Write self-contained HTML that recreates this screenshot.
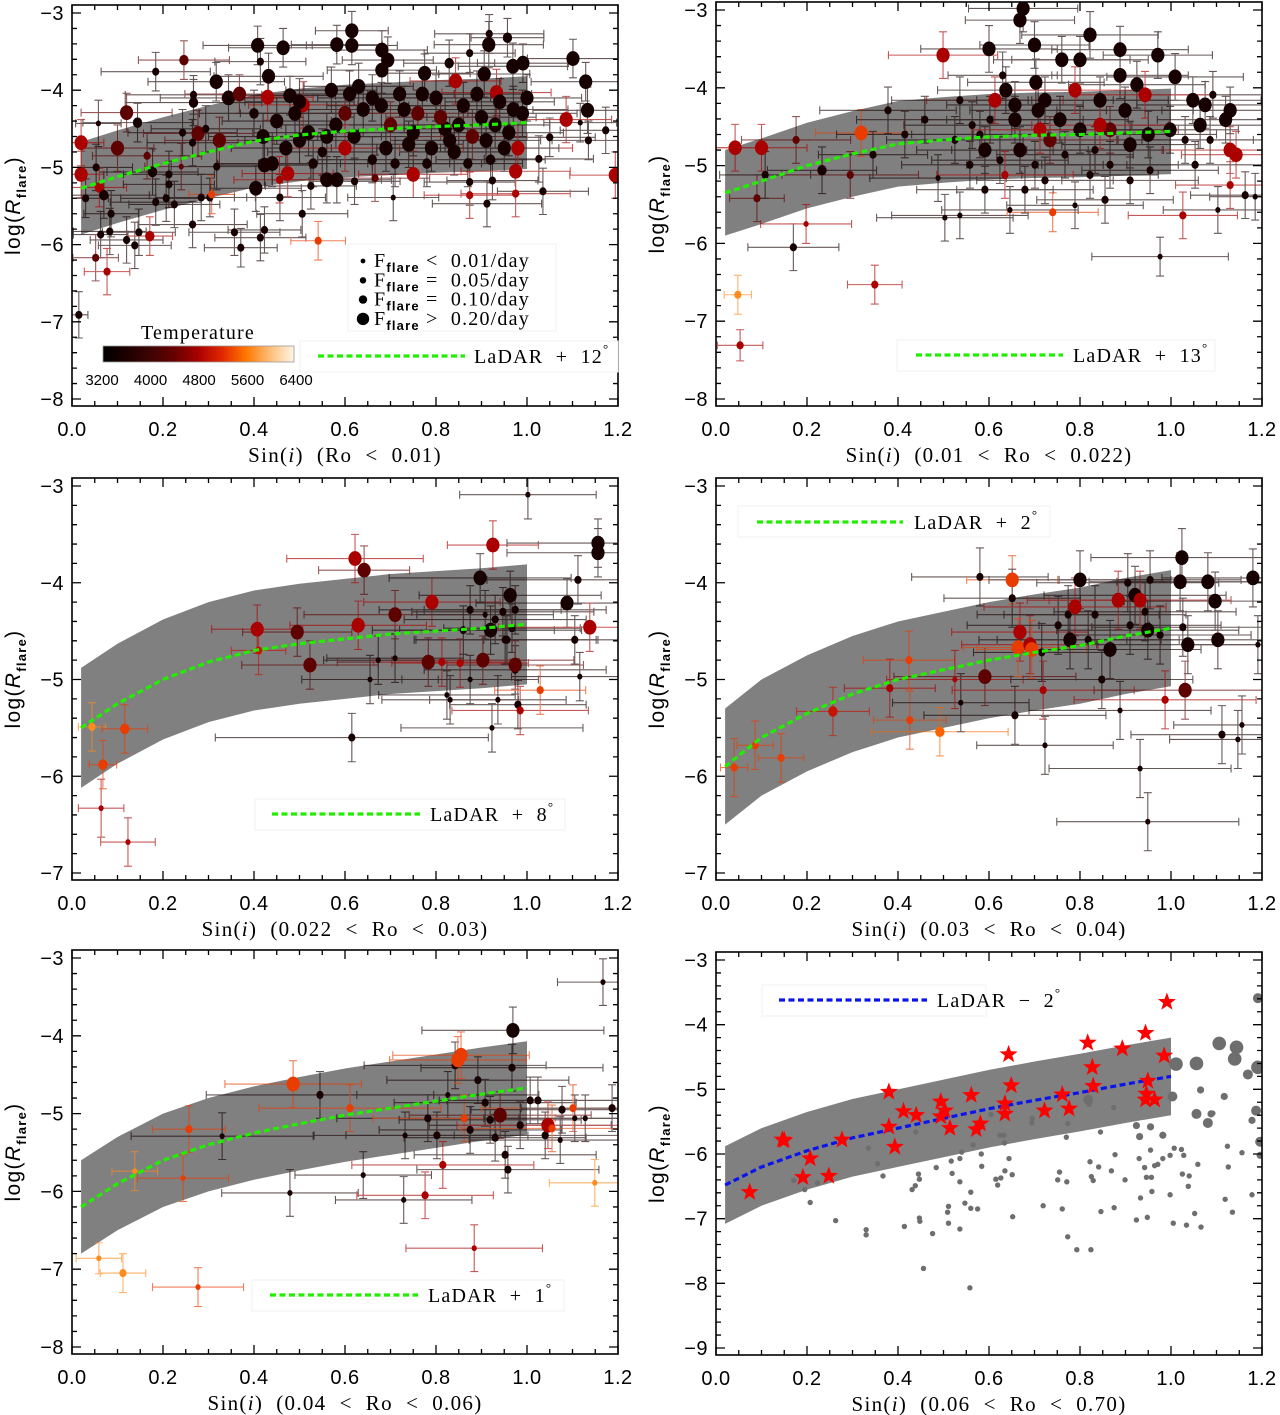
<!DOCTYPE html>
<html><head><meta charset="utf-8"><title>log R_flare vs sin i</title>
<style>
html,body{margin:0;padding:0;background:#fff;}
svg{display:block;font-family:"Liberation Sans",sans-serif;}
text{white-space:pre;}
.tick{font-size:20px;fill:#000;letter-spacing:0.5px;}
.lab{font-family:"Liberation Serif",serif;font-size:21px;fill:#000;letter-spacing:1.3px;}
.leg{font-family:"Liberation Serif",serif;font-size:20px;fill:#000;letter-spacing:1.2px;}
</style></head>
<body>
<svg id="chart" width="1280" height="1415" viewBox="0 0 1280 1415" xmlns="http://www.w3.org/2000/svg"></svg>
<script>
// ---------------- DATA ----------------
const xTicks = [0.0, 0.2, 0.4, 0.6, 0.8, 1.0, 1.2];
const xTickLabels = ["0.0", "0.2", "0.4", "0.6", "0.8", "1.0", "1.2"];
const modelX = [0.02, 0.1, 0.2, 0.3, 0.4, 0.5, 0.6, 0.7, 0.8, 0.9, 1.0];
const p1Model = [-5.27, -5.12, -4.95, -4.8, -4.66, -4.58, -4.53, -4.5, -4.47, -4.45, -4.42];
const p2Model = [-5.35, -5.2, -5.0, -4.85, -4.72, -4.67, -4.63, -4.61, -4.6, -4.58, -4.56];
const p3Model = [-5.5, -5.25, -5.0, -4.82, -4.7, -4.63, -4.58, -4.53, -4.5, -4.47, -4.43];
const p4Model = [-5.9, -5.6, -5.35, -5.15, -5.0, -4.9, -4.8, -4.72, -4.65, -4.55, -4.47];
const p5Model = [-6.2, -5.9, -5.6, -5.4, -5.25, -5.13, -5.02, -4.93, -4.84, -4.75, -4.67];
const p6Model = [-6.48, -6.2, -5.95, -5.75, -5.6, -5.45, -5.3, -5.17, -5.05, -4.92, -4.8];
const bandHalf = [0.6, 0.55, 0.62, 0.6, 0.6, 0.6];
const tempTicks = [3200, 4000, 4800, 5600, 6400];
const flareLegend = ["< 0.01/day", "= 0.05/day", "= 0.10/day", "> 0.20/day"];
// rows: [sin i, log R, x err, y err, size class, Teff]
const p1Points = [
[.02,-4.68,.05,.3,3,4800],[.02,-5.09,.05,.3,3,4800],[.053,-5.0,.08,.3,1,3500],[.03,-5.4,.05,.25,1,3500],[.06,-5.26,.06,.25,2,4800],
[.07,-5.36,.1,.3,2,3500],[.058,-4.43,.05,.3,0,3500],[.10,-4.75,.08,.3,3,4300],[.12,-4.29,.1,.25,3,4300],[.144,-4.42,.12,.25,2,3500],
[.165,-4.85,.12,.3,1,4300],[.177,-5.06,.1,.3,2,3500],[.184,-3.76,.12,.25,1,3500],[.246,-3.61,.1,.25,2,4300],[.267,-4.06,.15,.25,1,3500],
[.267,-4.16,.15,.3,2,3500],[.243,-4.55,.12,.3,1,3500],[.277,-4.56,.12,.3,3,4300],[.265,-4.68,.1,.3,1,3500],[.24,-4.99,.08,.3,0,4300],
[.294,-4.5,.12,.3,1,3500],[.317,-3.89,.15,.25,3,3500],[.344,-4.1,.15,.3,3,3500],[.368,-4.05,.12,.25,3,4300],[.318,-4.99,.1,.3,1,3500],
[.324,-4.65,.12,.3,3,4300],[.303,-5.39,.1,.25,1,3500],[.307,-5.35,.05,.25,1,5300],[.284,-5.39,.1,.3,1,3500],[.408,-3.42,.12,.25,3,3500],
[.414,-3.63,.1,.3,1,3500],[.432,-3.82,.12,.3,3,3500],[.43,-4.09,.1,.3,3,4800],[.464,-3.45,.12,.25,3,3500],[.479,-4.07,.1,.25,3,3500],
[.508,-4.19,.12,.3,3,4800],[.582,-3.41,.1,.25,3,3500],[.615,-3.23,.08,.25,3,3500],[.615,-3.42,.1,.25,3,3500],[.681,-3.48,.1,.25,3,3500],
[.694,-3.61,.1,.3,3,3500],[.681,-3.74,.12,.3,3,3500],[.775,-3.78,.1,.25,3,3500],[.829,-3.65,.1,.3,2,3500],[.874,-3.52,.1,.25,1,3500],
[.917,-3.27,.12,.25,1,3500],[.916,-3.41,.12,.3,3,3500],[.957,-3.32,.08,.25,2,3500],[.906,-3.79,.1,.3,3,3500],[.969,-3.69,.12,.3,3,3500],
[.991,-3.65,.1,.25,3,3500],[.933,-4.03,.12,.3,3,4800],[.843,-3.88,.1,.3,3,4800],[1.101,-3.59,.1,.25,3,3500],[1.129,-3.89,.12,.25,3,3500],
[1.133,-4.26,.12,.3,3,3500],[1.086,-4.38,.1,.3,3,4800],[1.117,-4.42,.08,.25,0,3500],[1.135,-4.65,.08,.25,1,3500],[1.173,-4.52,.1,.3,1,3500],
[1.05,-4.61,.1,.25,1,3500],[1.026,-4.89,.12,.3,1,3500],[1.035,-5.31,.1,.3,1,3500],[1.194,-5.1,.1,.3,3,4800],[.912,-5.47,.12,.3,1,3500],
[.924,-5.17,.1,.25,1,3500],[.874,-5.19,.1,.3,1,3500],[.874,-5.36,.1,.3,1,4800],[.975,-5.34,.12,.3,1,4800],[.975,-5.05,.12,.3,3,4800],
[.75,-5.09,.12,.3,3,4800],[.706,-5.39,.1,.3,0,3500],[.666,-5.14,.12,.3,1,4300],[.621,-5.18,.1,.3,1,3500],[.582,-5.16,.12,.3,3,3500],
[.56,-5.16,.12,.3,3,3500],[.525,-5.24,.1,.3,1,3500],[.506,-5.6,.1,.3,1,3500],[.457,-5.39,.1,.3,1,3500],[.456,-5.16,.1,.3,1,4800],
[.474,-5.08,.1,.3,3,4800],[.404,-5.27,.1,.3,3,3500],[.423,-4.97,.1,.3,3,3500],[.371,-6.04,.08,.25,1,3500],[.357,-5.84,.1,.3,1,3500],
[.414,-5.91,.1,.3,1,3500],[.423,-5.81,.08,.3,1,3500],[.541,-5.95,.06,.25,1,5300],[.265,-5.74,.12,.3,1,3500],[.225,-5.48,.1,.3,1,3500],
[.207,-5.4,.1,.3,1,3500],[.184,-5.45,.1,.3,1,3500],[.213,-5.09,.1,.3,1,3500],[.213,-5.22,.1,.3,1,3500],[.12,-5.94,.08,.3,1,3500],
[.138,-6.01,.08,.3,1,3500],[.147,-5.84,.08,.3,1,3500],[.171,-5.89,.05,.25,2,4800],[.083,-5.83,.08,.3,1,3500],[.063,-5.87,.06,.3,1,3500],
[.086,-5.6,.06,.3,1,3500],[.052,-6.17,.05,.3,1,4300],[.077,-6.35,.05,.3,1,4800],[.015,-6.91,.02,.3,1,3500],
[.45,-4.4,.12,.3,3,3500],[.5,-4.15,.12,.3,3,3500],[.52,-4.55,.12,.3,3,3500],[.55,-4.8,.12,.3,2,3500],[.57,-4.0,.1,.3,3,3500],
[.6,-4.3,.12,.3,3,4300],[.62,-4.6,.12,.3,3,3500],[.63,-3.95,.12,.3,3,3500],[.66,-4.9,.12,.3,2,3500],[.68,-4.2,.12,.3,3,3500],
[.7,-4.45,.12,.3,3,4300],[.72,-4.05,.12,.3,3,3500],[.74,-4.7,.12,.3,3,3500],[.76,-4.3,.12,.3,3,4300],[.78,-4.95,.12,.3,2,3500],
[.8,-4.1,.12,.3,3,3500],[.82,-4.5,.12,.3,3,3500],[.84,-4.8,.12,.3,3,3500],[.86,-4.2,.12,.3,3,3500],[.88,-4.6,.12,.3,3,4300],
[.9,-4.35,.12,.3,3,3500],[.92,-4.9,.12,.3,2,3500],[.94,-4.15,.12,.3,3,3500],[.96,-4.55,.12,.3,3,3500],[.98,-4.75,.12,.3,3,4800],
[1.0,-4.1,.12,.3,3,3500],[.47,-4.75,.12,.3,3,3500],[.53,-4.95,.12,.3,2,3500],[.58,-4.45,.12,.3,3,3500],[.64,-4.25,.12,.3,3,3500],
[.69,-4.75,.12,.3,3,3500],[.75,-4.55,.12,.3,3,3500],[.81,-4.35,.12,.3,3,4300],[.87,-4.95,.12,.3,2,3500],[.93,-4.45,.12,.3,3,3500],
[.99,-4.3,.12,.3,3,3500],[.42,-4.6,.12,.3,3,3500],[.44,-4.95,.12,.3,3,3500],[.49,-4.3,.12,.3,3,3500],[.6,-4.75,.12,.3,3,4800],
[.66,-4.1,.12,.3,3,3500],[.71,-4.95,.12,.3,2,3500],[.77,-4.05,.12,.3,3,3500],[.83,-4.65,.12,.3,3,3500],[.89,-4.05,.12,.3,3,3500],
[.95,-4.75,.12,.3,3,3500],[.97,-4.25,.12,.3,3,3500],[.4,-4.3,.12,.3,2,3500],[.56,-4.6,.12,.3,3,3500],[.73,-4.25,.12,.3,3,3500],
[.85,-4.45,.12,.3,3,3500],[.91,-4.65,.12,.3,3,3500],[.61,-4.05,.12,.3,3,3500],[.79,-4.75,.12,.3,3,3500],[.5,-4.65,.12,.3,3,3500]
];
const p2Points = [
[.048,-6.66,.03,.25,1,5700],[.053,-7.31,.05,.2,1,4800],[.09,-5.42,.06,.3,1,4300],[.042,-4.77,.05,.3,3,4800],[.10,-4.77,.1,.3,3,4800],
[.108,-5.12,.1,.3,1,3500],[.17,-6.05,.1,.3,1,3500],[.176,-4.67,.12,.3,1,4300],[.198,-5.75,.1,.25,0,4800],[.295,-5.12,.15,.3,1,4300],
[.233,-5.06,.12,.3,2,3500],[.319,-4.58,.1,.3,3,5300],[.349,-6.53,.06,.25,1,4800],[.345,-4.86,.12,.3,1,3500],[.378,-4.29,.15,.3,1,3500],
[.488,-5.16,.15,.3,0,3500],[.499,-3.58,.12,.3,3,4800],[.503,-5.67,.15,.3,0,3500],[.536,-5.64,.15,.3,0,3500],[.563,-4.48,.15,.3,1,3500],
[.58,-4.6,.15,.3,1,3500],[.6,-3.5,.15,.3,3,3500],[.613,-4.16,.15,.3,3,4800],[.63,-3.84,.12,.3,1,3500],[.668,-3.13,.12,.3,3,3500],
[.675,-2.98,.12,.3,3,3500],[.7,-3.45,.12,.3,3,3500],[.703,-3.93,.15,.3,3,3500],[.708,-4.29,.15,.3,3,3500],[.637,-4.03,.15,.3,3,3500],
[.657,-4.41,.15,.3,3,3500],[.723,-4.16,.15,.3,3,3500],[.74,-5.6,.1,.25,1,5300],[.76,-3.64,.15,.3,3,3500],[.8,-3.64,.15,.3,3,3500],
[.844,-4.16,.15,.3,3,3500],[.888,-3.84,.15,.3,3,3500],[.925,-3.96,.15,.3,3,3500],[.971,-3.58,.12,.3,3,3500],[1.009,-3.86,.15,.3,3,3500],
[1.048,-4.16,.15,.3,3,3500],[1.075,-4.22,.15,.3,3,3500],[1.092,-4.09,.15,.3,1,3500],[1.13,-4.8,.15,.3,3,4800],[1.143,-4.86,.12,.3,3,4800],
[1.13,-5.25,.12,.3,1,4800],[1.053,-4.99,.15,.3,1,3500],[1.086,-4.67,.15,.3,1,3500],[1.103,-5.57,.12,.3,0,3500],[1.163,-5.38,.12,.3,1,3500],
[1.185,-5.4,.1,.3,0,3500],[.976,-6.17,.15,.25,0,3500],[1.026,-5.64,.12,.3,1,4800],[1.13,-4.29,.15,.3,3,3500],[1.12,-4.41,.15,.3,3,3500],
[1.064,-4.48,.15,.3,3,3500],[1.031,-4.67,.15,.3,1,3500],[.998,-4.54,.15,.3,3,3500],[.95,-4.6,.15,.3,3,3500],[.91,-4.73,.15,.3,3,3500],
[.866,-4.54,.15,.3,3,4300],[.833,-4.8,.15,.3,1,3500],[.8,-4.54,.15,.3,3,3500],[.767,-4.86,.15,.3,1,3500],[.734,-4.67,.15,.3,3,4300],
[.701,-4.99,.15,.3,1,3500],[.668,-4.8,.15,.3,3,3500],[.624,-4.93,.15,.3,1,3500],[.591,-4.8,.15,.3,3,3500],[.558,-4.99,.15,.3,1,3500],
[.525,-4.67,.15,.3,1,3500],[.822,-5.12,.15,.3,1,3500],[.866,-4.99,.15,.3,1,3500],[.91,-5.19,.15,.3,1,3500],[.954,-5.06,.15,.3,1,3500],
[.723,-5.19,.15,.3,1,3500],[.679,-5.31,.15,.3,1,3500],[.635,-5.12,.15,.3,1,4800],[.591,-5.31,.15,.3,1,3500],[.855,-5.44,.15,.3,1,3500],
[.789,-5.51,.15,.3,0,3500],[.646,-5.57,.15,.3,0,3500],[.943,-4.09,.15,.3,3,4800],[.899,-4.29,.15,.3,3,3500],[.844,-4.48,.15,.3,3,4800],
[.756,-4.41,.15,.3,3,3500],[.712,-4.54,.15,.3,3,4800],[.657,-4.22,.15,.3,3,3500],[.602,-4.41,.15,.3,1,3500],[.536,-4.16,.15,.3,1,3500],
[.459,-4.41,.15,.3,1,3500],[.415,-4.6,.15,.3,1,3500],[.789,-4.03,.15,.3,3,4800],[.888,-3.51,.15,.3,3,3500],[.822,-3.32,.15,.3,3,3500]
];
const p3Points = [
[.044,-5.49,.03,.25,1,5700],[.068,-5.88,.03,.25,2,5300],[.064,-6.33,.05,.3,0,4800],[.123,-6.68,.06,.25,0,4800],[.116,-5.51,.05,.25,2,5300],
[.407,-4.48,.1,.25,3,4800],[.41,-4.7,.06,.25,1,5000],[.495,-4.51,.12,.25,3,4300],[.523,-4.85,.15,.25,3,4300],[.622,-3.75,.15,.25,3,4800],
[.642,-3.87,.1,.25,3,4300],[.629,-4.44,.15,.25,3,4800],[.615,-5.6,.3,.25,1,3500],[.655,-5.0,.15,.25,0,3500],[.673,-4.8,.12,.25,0,3500],
[.71,-4.33,.2,.25,3,4300],[.791,-4.2,.15,.25,3,4800],[.783,-4.82,.2,.25,3,4300],[.813,-4.82,.15,.25,1,4800],[.824,-5.16,.15,.25,0,3500],
[.853,-4.83,.15,.25,1,4800],[.86,-4.49,.2,.25,1,3500],[.875,-4.28,.2,.25,1,3500],[.897,-3.95,.2,.25,3,3500],[.908,-4.33,.15,.25,0,3500],
[.92,-4.49,.2,.25,3,3500],[.925,-3.61,.1,.25,3,4800],[.93,-4.38,.2,.25,1,3500],[.947,-4.3,.2,.25,1,3500],[.956,-4.59,.2,.25,1,3500],
[.963,-4.13,.2,.25,3,3500],[.967,-4.47,.15,.25,1,3500],[.974,-4.9,.2,.25,1,3500],[.974,-4.28,.2,.25,1,3500],[.98,-5.26,.15,.25,1,3500],
[.985,-5.32,.15,.25,1,4800],[1.002,-3.09,.15,.25,0,3500],[.974,-4.85,.15,.25,3,4300],[1.029,-5.11,.1,.25,1,5300],[1.088,-4.21,.2,.25,3,3500],
[1.112,-3.97,.2,.25,1,3500],[1.105,-4.59,.2,.25,1,3500],[1.116,-4.97,.15,.25,0,3500],[1.138,-4.46,.2,.25,3,4800],[1.156,-3.59,.2,.25,3,3500],
[1.156,-3.69,.2,.25,3,3500],[.952,-4.59,.2,.25,1,3500],[.903,-4.8,.2,.25,3,4300],[.936,-5.21,.15,.25,0,3500],[.923,-5.5,.2,.25,0,3500],
[.875,-5.0,.15,.25,0,3500],[.831,-5.21,.15,.25,0,3500],[.71,-4.78,.15,.25,0,3500]
];
const p4Points = [
[.04,-5.91,.03,.3,1,5300],[.086,-5.68,.04,.25,1,5300],[.143,-5.81,.05,.25,1,5300],[.257,-5.33,.08,.25,2,5000],[.382,-5.09,.1,.3,1,4800],
[.424,-4.8,.1,.3,1,5300],[.426,-5.42,.08,.3,1,5300],[.492,-5.54,.15,.25,2,5500],[.538,-5.24,.15,.3,0,3500],[.525,-5.0,.15,.3,0,4800],
[.58,-3.94,.15,.3,1,3500],[.591,-4.97,.2,.3,3,4300],[.651,-3.97,.1,.25,3,5300],[.651,-4.16,.15,.3,1,3500],[.657,-5.37,.2,.3,1,3500],
[.668,-4.51,.15,.3,3,4800],[.664,-4.67,.12,.3,3,5300],[.69,-4.64,.15,.3,3,4800],[.694,-4.69,.12,.3,3,5300],[.716,-4.72,.15,.3,1,3500],
[.719,-5.11,.2,.3,1,4800],[.723,-5.68,.15,.3,0,3500],[.752,-4.44,.2,.3,1,3500],[.774,-4.33,.2,.3,1,3500],[.778,-4.59,.2,.3,3,3500],
[.789,-4.25,.2,.3,3,4800],[.8,-3.97,.2,.3,3,3500],[.818,-4.59,.2,.3,1,3500],[.833,-4.33,.2,.3,1,3500],[.848,-5.0,.2,.3,1,3500],
[.866,-4.69,.2,.3,3,3500],[.884,-4.18,.2,.3,3,4800],[.905,-4.0,.2,.3,1,3500],[.91,-4.44,.2,.3,1,3500],[.921,-4.13,.2,.3,3,3500],
[.932,-4.18,.2,.3,3,4800],[.943,-4.3,.2,.3,1,3500],[.954,-3.97,.2,.3,1,3500],[.949,-4.49,.2,.3,3,3500],[.932,-5.92,.2,.3,0,3500],
[.949,-6.47,.2,.3,0,3500],[.976,-4.54,.2,.3,1,3500],[.987,-5.21,.2,.3,1,4800],[1.024,-3.74,.2,.3,3,3500],[1.02,-3.99,.2,.3,3,3500],
[1.026,-4.46,.2,.3,1,3500],[1.037,-4.64,.2,.3,3,3500],[1.031,-5.11,.2,.3,3,4300],[1.081,-3.99,.2,.3,3,3500],[1.097,-4.19,.2,.3,3,3500],
[1.103,-4.59,.2,.3,3,3500],[1.112,-5.57,.2,.3,1,3500],[1.147,-5.62,.15,.3,0,3500],[1.156,-5.47,.15,.3,0,3500],[1.18,-3.95,.2,.3,3,3500],
[1.191,-4.64,.15,.3,0,3500],[.888,-5.32,.2,.3,0,3500]
];
const p5Points = [
[.059,-6.86,.05,.2,0,5700],[.112,-7.05,.05,.25,1,5700],[.138,-5.74,.05,.25,0,5700],[.257,-5.2,.08,.3,1,5300],[.244,-5.83,.1,.3,0,5300],
[.277,-7.23,.1,.25,0,5300],[.33,-5.29,.2,.3,0,3500],[.486,-4.62,.15,.3,3,5300],[.479,-6.02,.15,.3,0,3500],[.545,-4.76,.25,.3,1,3500],
[.611,-4.93,.2,.3,1,5300],[.64,-5.79,.15,.3,0,3500],[.732,-5.28,.2,.3,0,3500],[.729,-6.11,.15,.3,0,3500],[.776,-6.05,.15,.3,1,4800],
[.782,-5.06,.2,.3,1,3500],[.802,-5.28,.2,.3,1,3500],[.815,-5.66,.2,.3,1,4800],[.826,-4.76,.2,.3,0,3500],[.842,-4.38,.2,.3,1,3500],
[.848,-4.31,.15,.3,3,5300],[.855,-4.25,.15,.3,3,5300],[.862,-5.06,.2,.3,1,5300],[.875,-5.21,.2,.3,1,3500],[.884,-6.73,.15,.3,0,4800],
[.892,-4.57,.2,.3,1,3500],[.908,-4.86,.2,.3,1,3500],[.919,-5.08,.2,.3,1,3500],[.93,-5.31,.2,.3,1,3500],[.941,-5.02,.2,.3,3,4300],
[.969,-3.93,.2,.3,3,3500],[.967,-4.41,.2,.3,1,3500],[.952,-5.53,.2,.3,1,3500],[.958,-5.72,.2,.3,1,3500],[.985,-5.15,.2,.3,1,3500],
[1.007,-4.83,.2,.3,1,3500],[1.024,-4.83,.2,.3,1,3500],[1.04,-5.28,.2,.3,1,3500],[1.046,-5.15,.2,.3,3,4800],[1.055,-5.19,.2,.3,1,5300],
[1.077,-4.95,.2,.3,1,3500],[1.101,-4.93,.2,.3,1,5300],[1.128,-5.06,.2,.3,0,3500],[1.149,-5.89,.1,.3,0,5700],[1.167,-3.31,.1,.3,0,3500],
[1.187,-4.93,.2,.3,1,3500],[1.105,-5.06,.2,.3,0,3500],[1.073,-5.34,.2,.3,0,3500]
];
const p6StarX = [.074,.146,.15,.191,.207,.248,.277,.38,.38,.393,.412,.44,.494,.494,.503,.514,.561,.572,.581,.635,.635,.643,.649,.722,.761,.776,.817,.827,.829,.893,.944,.946,.949,.944,.964,.985,.991];
const p6StarY = [-6.59,-5.78,-5.79,-6.36,-6.07,-6.34,-5.78,-5.04,-5.58,-5.89,-5.34,-5.4,-5.19,-5.42,-5.33,-5.6,-5.09,-5.62,-5.53,-5.22,-5.38,-4.46,-4.94,-5.33,-5.08,-5.3,-4.28,-4.66,-4.95,-4.37,-4.13,-5.07,-4.87,-5.16,-5.16,-4.48,-3.65];
// grey rows: [sin i, log R, size class]
const p6Grey = [
[.171,-6.41,0],[.195,-6.55,0],[.207,-6.75,0],[.223,-6.45,0],[.263,-7.03,0],[.33,-7.17,0],[.33,-7.25,0],[.335,-5.91,0],[.355,-6.15,0],[.367,-6.34,0],
[.414,-7.12,0],[.431,-6.55,0],[.438,-6.49,0],[.439,-5.66,0],[.445,-6.31,0],[.447,-6.39,0],[.447,-6.99,0],[.448,-7.04,0],[.456,-7.77,0],[.476,-7.23,0],
[.484,-6.21,0],[.509,-6.9,0],[.511,-6.81,0],[.511,-7.07,0],[.517,-6.11,0],[.519,-6.3,0],[.536,-6.07,0],[.536,-6.43,0],[.536,-7.16,0],[.54,-5.97,0],
[.547,-6.76,0],[.558,-8.07,0],[.56,-6.59,0],[.56,-6.84,0],[.565,-5.86,0],[.575,-6.85,0],[.583,-6.0,0],[.584,-6.19,0],[.604,-5.39,0],[.615,-6.39,0],
[.619,-6.48,0],[.624,-5.71,0],[.626,-6.37,0],[.633,-5.71,0],[.634,-5.83,0],[.635,-6.26,0],[.644,-6.07,0],[.651,-6.32,0],[.652,-6.97,0],[.695,-5.45,0],
[.694,-5.52,0],[.719,-6.8,0],[.751,-6.4,0],[.755,-6.28,0],[.761,-6.85,0],[.771,-6.43,0],[.773,-7.28,0],[.773,-5.53,0],[.77,-5.74,0],[.793,-7.48,0],
[.82,-5.23,0],[.822,-6.12,0],[.825,-6.35,0],[.829,-6.41,0],[.824,-7.48,0],[.841,-6.2,0],[.845,-5.66,0],[.846,-6.89,0],[.869,-6.26,0],[.874,-5.28,0],
[.877,-6.01,0],[.875,-6.83,0],[.899,-6.4,0],[.924,-5.56,1],[.93,-6.07,0],[.931,-5.73,1],[.933,-6.68,0],[.924,-7.02,0],[.942,-6.21,0],[.946,-6.36,0],
[.948,-6.98,0],[.955,-5.58,1],[.955,-5.94,0],[.957,-6.36,0],[.958,-6.58,0],[.964,-6.18,0],[.971,-6.16,0],[.982,-6.07,0],[.982,-5.71,1],[.998,-6.63,0],
[.998,-6.02,0],[1.005,-7.07,0],[1.007,-5.91,0],[1.023,-5.93,0],[1.028,-6.02,0],[1.025,-6.31,0],[1.034,-7.1,0],[1.04,-6.34,0],[1.038,-6.5,0],[1.052,-6.92,0],
[1.059,-6.16,0],[1.066,-7.13,0],[1.088,-5.38,1],[1.092,-5.37,0],[1.119,-6.7,0],[1.124,-5.88,0],[1.126,-6.2,0],[1.135,-6.9,0],[1.156,-5.98,0],[1.178,-6.63,0],
[1.011,-4.61,3],[1.056,-4.6,3],[1.106,-4.29,3],[1.144,-4.35,3],[1.14,-4.53,3],[1.169,-4.77,2],[1.191,-4.66,3],[1.196,-5.81,2],[1.191,-3.59,2],[1.003,-5.11,2],
[1.081,-5.52,2],[1.056,-5.38,2],[1.187,-5.33,2],[1.065,-5.01,1],[1.117,-5.11,1],[1.178,-5.48,1],[.818,-5.16,2],[1.196,-6.02,1]
];
const p6GreyX = p6Grey.map(r => r[0]);

// ---------------- RENDER ----------------
const NS = "http://www.w3.org/2000/svg";
const svg = document.getElementById("chart");
function el(tag, parent) { const e = document.createElementNS(NS, tag); (parent || svg).appendChild(e); return e; }
function at(e, o) { for (const k in o) e.setAttribute(k, o[k]); return e; }

const cstops = [[3200,[0,0,0]],[3600,[30,0,0]],[4000,[62,4,4]],[4400,[105,0,0]],[4800,[170,0,0]],[5200,[225,40,0]],[5600,[255,120,0]],[6000,[255,190,120]],[6400,[255,245,230]]];
function tcol(t) {
  if (t <= cstops[0][0]) return "rgb(0,0,0)";
  for (let i = 1; i < cstops.length; i++) {
    if (t <= cstops[i][0]) {
      const a = cstops[i-1], b = cstops[i], f = (t - a[0]) / (b[0] - a[0]);
      const c = a[1].map((v, k) => Math.round(v + (b[1][k] - v) * f));
      return "rgb(" + c.join(",") + ")";
    }
  }
  return "rgb(255,245,230)";
}
const radii = [2.6, 3.6, 4.7, 6.6];
const greyR = [2.7, 3.6, 5.0, 6.8];

const panels = [
  {name:"panel-ro-lt-0.01", x0:72, x1:618, yA:-3, pA:13, yB:-8, pB:399, yticks:[-3,-4,-5,-6,-7,-8], model:p1Model, band:bandHalf[0], pts:p1Points, xl:"(Ro  <  0.01)", color:"#22ee00", leg:"LaDAR  +  12"},
  {name:"panel-ro-0.01-0.022", x0:716, x1:1262, yA:-3, pA:10, yB:-8, pB:399, yticks:[-3,-4,-5,-6,-7,-8], model:p2Model, band:bandHalf[1], pts:p2Points, xl:"(0.01  <  Ro  <  0.022)", color:"#22ee00", leg:"LaDAR  +  13"},
  {name:"panel-ro-0.022-0.03", x0:72, x1:618, yA:-3, pA:486, yB:-7, pB:873, yticks:[-3,-4,-5,-6,-7], model:p3Model, band:bandHalf[2], pts:p3Points, xl:"(0.022  <  Ro  <  0.03)", color:"#22ee00", leg:"LaDAR  +  8"},
  {name:"panel-ro-0.03-0.04", x0:716, x1:1262, yA:-3, pA:486, yB:-7, pB:873, yticks:[-3,-4,-5,-6,-7], model:p4Model, band:bandHalf[3], pts:p4Points, xl:"(0.03  <  Ro  <  0.04)", color:"#22ee00", leg:"LaDAR  +  2"},
  {name:"panel-ro-0.04-0.06", x0:72, x1:618, yA:-3, pA:958, yB:-8, pB:1347, yticks:[-3,-4,-5,-6,-7,-8], model:p5Model, band:bandHalf[4], pts:p5Points, xl:"(0.04  <  Ro  <  0.06)", color:"#22ee00", leg:"LaDAR  +  1"},
  {name:"panel-ro-0.06-0.70", x0:716, x1:1262, yA:-3, pA:960, yB:-9, pB:1348, yticks:[-3,-4,-5,-6,-7,-8,-9], model:p6Model, band:bandHalf[5], pts:null, xl:"(0.06  <  Ro  <  0.70)", color:"#0a14ee", leg:"LaDAR  \u2212  2"}
];
const legPos = [
  {bx:300,by:341,bw:318,lx0:318,lx1:465,ly:356,tx:474},
  {bx:897,by:340,bw:318,lx0:916,lx1:1063,ly:355,tx:1073},
  {bx:255,by:799,bw:310,lx0:272,lx1:420,ly:814,tx:430},
  {bx:738,by:506,bw:312,lx0:757,lx1:903,ly:522,tx:914},
  {bx:252,by:1280,bw:312,lx0:270,lx1:418,ly:1295,tx:428},
  {bx:762,by:985,bw:224,lx0:779,lx1:927,ly:1000,tx:937}
];

panels.forEach((P, pi) => {
  const sx = v => P.x0 + (P.x1 - P.x0) * v / 1.2;
  const sy = v => P.pA + (P.pB - P.pA) * (v - P.yA) / (P.yB - P.yA);
  const top = P.pA - 8, bot = P.pB + 7;
  const g = el("g");
  
  
  const cp = at(el("clipPath", g), {id:"clip" + pi});
  at(el("rect", cp), {x:P.x0, y:top, width:P.x1 - P.x0, height:bot - top});
  const plot = at(el("g", g), {"clip-path":"url(#clip" + pi + ")"});

  const up = modelX.map((x, i) => sx(x) + "," + sy(P.model[i] + P.band));
  const dn = modelX.map((x, i) => sx(x) + "," + sy(P.model[i] - P.band)).reverse();
  const band = at(el("polygon", plot), {points: up.concat(dn).join(" "), fill:"#808080"});
  
  

  if (P.pts) {
    const eg = at(el("g", plot), {"stroke-width":"1.1", opacity:"0.65"});
    P.pts.forEach(r => {
      const c = tcol(r[5]), X = sx(r[0]), Y = sy(r[1]);
      const xa = sx(r[0] - r[2]), xb = sx(r[0] + r[2]), ya = sy(r[1] + r[3]), yb = sy(r[1] - r[3]);
      const path = at(el("path", eg), {d:"M"+xa+","+Y+"H"+xb+"M"+xa+","+(Y-4)+"V"+(Y+4)+"M"+xb+","+(Y-4)+"V"+(Y+4)+"M"+X+","+ya+"V"+yb+"M"+(X-4)+","+ya+"H"+(X+4)+"M"+(X-4)+","+yb+"H"+(X+4), stroke:c, fill:"none"});
      
      
    });
    P.pts.forEach(r => {
      const rr = radii[r[4]];
      const e = at(el("ellipse", plot), {cx:sx(r[0]), cy:sy(r[1]), rx:rr, ry:rr * 1.12, fill:tcol(r[5])});
      
      
    });
  } else {
    p6Grey.forEach((r, i) => {
      const e = at(el("circle", plot), {cx:sx(p6GreyX[i]), cy:sy(r[1]), r:greyR[r[2]], fill:"#6e6e6e"});
      
      
    });
  }

  const ml = at(el("polyline", plot), {points: modelX.map((x, i) => sx(x) + "," + sy(P.model[i])).join(" "), fill:"none", stroke:P.color, "stroke-width":"3.2", "stroke-dasharray":"6,3.5"});
  
  

  if (!P.pts) {
    p6StarX.forEach((x, i) => {
      const X = sx(x), Y = sy(p6StarY[i]);
      const pts = [];
      for (let k = 0; k < 10; k++) {
        const a = -Math.PI / 2 + k * Math.PI / 5, rr = k % 2 ? 3.9 : 9.5;
        pts.push((X + rr * Math.cos(a)).toFixed(1) + "," + (Y + rr * Math.sin(a)).toFixed(1));
      }
      const s = at(el("polygon", plot), {points:pts.join(" "), fill:"#ff0000"});
      
      
    });
  }

  const fr = at(el("rect", g), {x:P.x0, y:top, width:P.x1 - P.x0, height:bot - top, fill:"none", stroke:"#000", "stroke-width":"1.6"});
  
  
  let d = "";
  for (let k = 0; k <= 24; k++) {
    const X = sx(k * 0.05), L = (k % 4 === 0) ? 9 : 5;
    d += "M" + X + "," + bot + "v" + (-L) + "M" + X + "," + top + "v" + L;
  }
  const yMin = P.yticks[P.yticks.length - 1];
  for (let v = P.yA; v >= yMin - 1e-6; v -= 0.2) {
    const Y = sy(v), L = (Math.abs(v - Math.round(v)) < 1e-6) ? 9 : 5;
    d += "M" + P.x0 + "," + Y + "h" + L + "M" + P.x1 + "," + Y + "h" + (-L);
  }
  const tk = at(el("path", g), {d:d, stroke:"#000", "stroke-width":"1.3", fill:"none"});
  
  

  xTicks.forEach((v, i) => {
    const t = at(el("text", g), {x:sx(v), y:bot + 30, "text-anchor":"middle", class:"tick"});
    t.textContent = xTickLabels[i];
    
    
  });
  P.yticks.forEach(v => {
    const t = at(el("text", g), {x:P.x0 - 8, y:sy(v) + 7, "text-anchor":"end", class:"tick"});
    t.textContent = "\u2212" + Math.abs(v);
    
    
  });

  const xt = at(el("text", g), {x:(P.x0 + P.x1) / 2, y:bot + 56, "text-anchor":"middle", class:"lab"});
  
  
  const a1 = el("tspan", xt); a1.textContent = "Sin(";
  const a2 = at(el("tspan", xt), {"font-style":"italic"}); a2.textContent = "i";
  const a3 = el("tspan", xt); a3.textContent = ")  " + P.xl;

  const cy = (top + bot) / 2, cx = P.x0 - 52;
  const yt = at(el("text", g), {x:cx, y:cy, "text-anchor":"middle", class:"lab", transform:"rotate(-90 " + cx + " " + cy + ")"});
  
  
  const b1 = at(el("tspan", yt), {"font-family":"Liberation Sans, sans-serif"}); b1.textContent = "log(";
  const b2 = at(el("tspan", yt), {"font-style":"italic", "font-family":"Liberation Sans, sans-serif"}); b2.textContent = "R";
  const b3 = at(el("tspan", yt), {"font-size":"13", "font-weight":"bold", "font-family":"Liberation Sans, sans-serif", dy:"6"}); b3.textContent = "flare";
  const b4 = at(el("tspan", yt), {dy:"-6", "font-family":"Liberation Sans, sans-serif"}); b4.textContent = ")";

  const L = legPos[pi];
  const lg = el("g", g);
  
  
  at(el("rect", lg), {x:L.bx, y:L.by, width:L.bw, height:31, fill:"#fff", stroke:"#f0f0f0"});
  at(el("line", lg), {x1:L.lx0, x2:L.lx1, y1:L.ly, y2:L.ly, stroke:P.color, "stroke-width":"3.2", "stroke-dasharray":"6,3.5"});
  const lt = at(el("text", lg), {x:L.tx, y:L.ly + 7, class:"leg"});
  const c1 = el("tspan", lt); c1.textContent = P.leg;
  const c2 = at(el("tspan", lt), {"font-size":"13", dy:"-10"}); c2.textContent = "\u00b0";
});

(function () {
  const g = el("g");
  
  
  at(el("rect", g), {x:348, y:244, width:208, height:87, fill:"#fff", stroke:"#f0f0f0"});
  flareLegend.forEach((s, i) => {
    const y = 261 + i * 19.3;
    at(el("circle", g), {cx:363, cy:y, r:[2.4, 3.2, 4.2, 6.2][i], fill:"#000"});
    const t = at(el("text", g), {x:374, y:y + 6, class:"leg"});
    const f = el("tspan", t); f.textContent = "F";
    const sb = at(el("tspan", t), {"font-size":"13", "font-family":"Liberation Sans, sans-serif", "font-weight":"bold", dy:"5"}); sb.textContent = "flare";
    const rest = at(el("tspan", t), {dy:"-5"}); rest.textContent = " " + s.replace(" ", "  ");
  });
})();

(function () {
  const g = el("g");
  
  
  const defs = el("defs", g);
  const lgd = at(el("linearGradient", defs), {id:"tgrad", x1:"0", x2:"1", y1:"0", y2:"0"});
  cstops.forEach(s => at(el("stop", lgd), {offset:((s[0] - 3200) / 3200).toFixed(3), "stop-color":"rgb(" + s[1].join(",") + ")"}));
  at(el("rect", g), {x:103, y:346, width:191, height:16, fill:"url(#tgrad)", stroke:"#999", "stroke-width":"0.8"});
  const tt = at(el("text", g), {x:198, y:339, "text-anchor":"middle", class:"leg"});
  tt.textContent = "Temperature";
  tempTicks.forEach((v, i) => {
    const t = at(el("text", g), {x:102 + i * 48.5, y:385, "text-anchor":"middle", "font-size":"15", fill:"#000"});
    t.textContent = String(v);
    
    
  });
})();
</script>
</body></html>
